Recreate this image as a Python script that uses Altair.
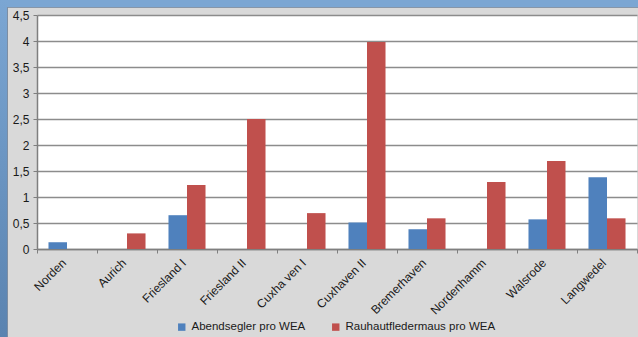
import altair as alt
import pandas as pd

# Sites along the x axis, in display order
standorte = ["Norden", "Aurich", "Friesland I", "Friesland II", "Cuxha ven I",
             "Cuxhaven II", "Bremerhaven", "Nordenhamm", "Walsrode", "Langwedel"]

# Bats found per wind turbine (WEA) at each site
abendsegler = [0.13, 0.0, 0.65, 0.0, 0.0, 0.51, 0.38, 0.0, 0.57, 1.38]
rauhautfledermaus = [0.0, 0.30, 1.23, 2.50, 0.69, 3.98, 0.59, 1.29, 1.69, 0.59]

serien = ["Abendsegler pro WEA", "Rauhautfledermaus pro WEA"]
farben = ["#4f81bd", "#c0504d"]
y_ticks = [0, 0.5, 1, 1.5, 2, 2.5, 3, 3.5, 4, 4.5]

rows = []
for i, s in enumerate(standorte):
    rows.append({"Standort": s, "Serie": serien[0], "Wert": abendsegler[i]})
    rows.append({"Standort": s, "Serie": serien[1], "Wert": rauhautfledermaus[i]})
df = pd.DataFrame(rows)

FONT = "Liberation Sans"
W, H = 600, 234

bars = alt.Chart(df).mark_bar().encode(
    x=alt.X("Standort:N", sort=standorte, title=None,
            scale=alt.Scale(paddingInner=0, paddingOuter=0),
            axis=alt.Axis(labelAngle=-45, labelFontSize=12, labelFont=FONT,
                          labelColor="#1a1a1a", tickBand="extent", ticks=True,
                          tickSize=4, tickColor="#7f7f7f", domainColor="#7f7f7f",
                          domainWidth=1.5, labelPadding=4, labelOffset=-7,
                          grid=False)),
    xOffset=alt.XOffset("Serie:N", sort=serien,
                        scale=alt.Scale(paddingInner=0, paddingOuter=0.62)),
    y=alt.Y("Wert:Q", title=None,
            scale=alt.Scale(domain=[0, 4.5], nice=False),
            axis=alt.Axis(values=y_ticks, labelFontSize=12, labelFont=FONT,
                          labelColor="#1a1a1a",
                          labelExpr="replace(toString(datum.value), '.', ',')",
                          tickSize=4, tickColor="#7f7f7f", domainColor="#7f7f7f",
                          domainWidth=1.5, labelPadding=4, grid=True,
                          gridColor="#8c8c8c", gridWidth=1.4)),
    color=alt.Color("Serie:N", sort=serien,
                    scale=alt.Scale(domain=serien, range=farben),
                    legend=alt.Legend(title=None, orient="none", direction="horizontal",
                                      legendX=139, legendY=306, symbolType="square",
                                      symbolSize=55, symbolStrokeWidth=0,
                                      labelFontSize=11.5, labelFont=FONT,
                                      labelColor="#1a1a1a", columnPadding=24,
                                      symbolOffset=0, labelOffset=4)),
)

# Blue window frame along the top and left edges
frame_data = alt.Data(values=[{}])
top_strip = alt.Chart(frame_data).mark_rect(color="#7ba6d3").encode(
    x=alt.value(-37), x2=alt.value(W + 1), y=alt.value(-15), y2=alt.value(-8))
top_edge = alt.Chart(frame_data).mark_rect(color="#8796a8").encode(
    x=alt.value(-30), x2=alt.value(W + 1), y=alt.value(-8), y2=alt.value(-7))
left_strip = alt.Chart(frame_data).mark_rect(
    color=alt.Gradient(gradient="linear", x1=0, x2=0, y1=0, y2=1,
                       stops=[alt.GradientStop(color="#7ba6d3", offset=0),
                              alt.GradientStop(color="#5a83b0", offset=1)])
).encode(x=alt.value(-37), x2=alt.value(-30), y=alt.value(-15), y2=alt.value(H + 88))
left_edge = alt.Chart(frame_data).mark_rect(color="#7d8ea3").encode(
    x=alt.value(-30), x2=alt.value(-29), y=alt.value(-8), y2=alt.value(H + 88))

chart = alt.layer(bars, top_strip, top_edge, left_strip, left_edge).properties(
    width=W, height=H,
    autosize=alt.AutoSizeParams(type="none"),
    padding={"left": 37, "top": 15, "right": 1, "bottom": 88},
    background="#d9d9d9",
).configure_view(fill="white", stroke=None)

chart.save("out.html", embed_options={"renderer": "svg", "actions": False})
